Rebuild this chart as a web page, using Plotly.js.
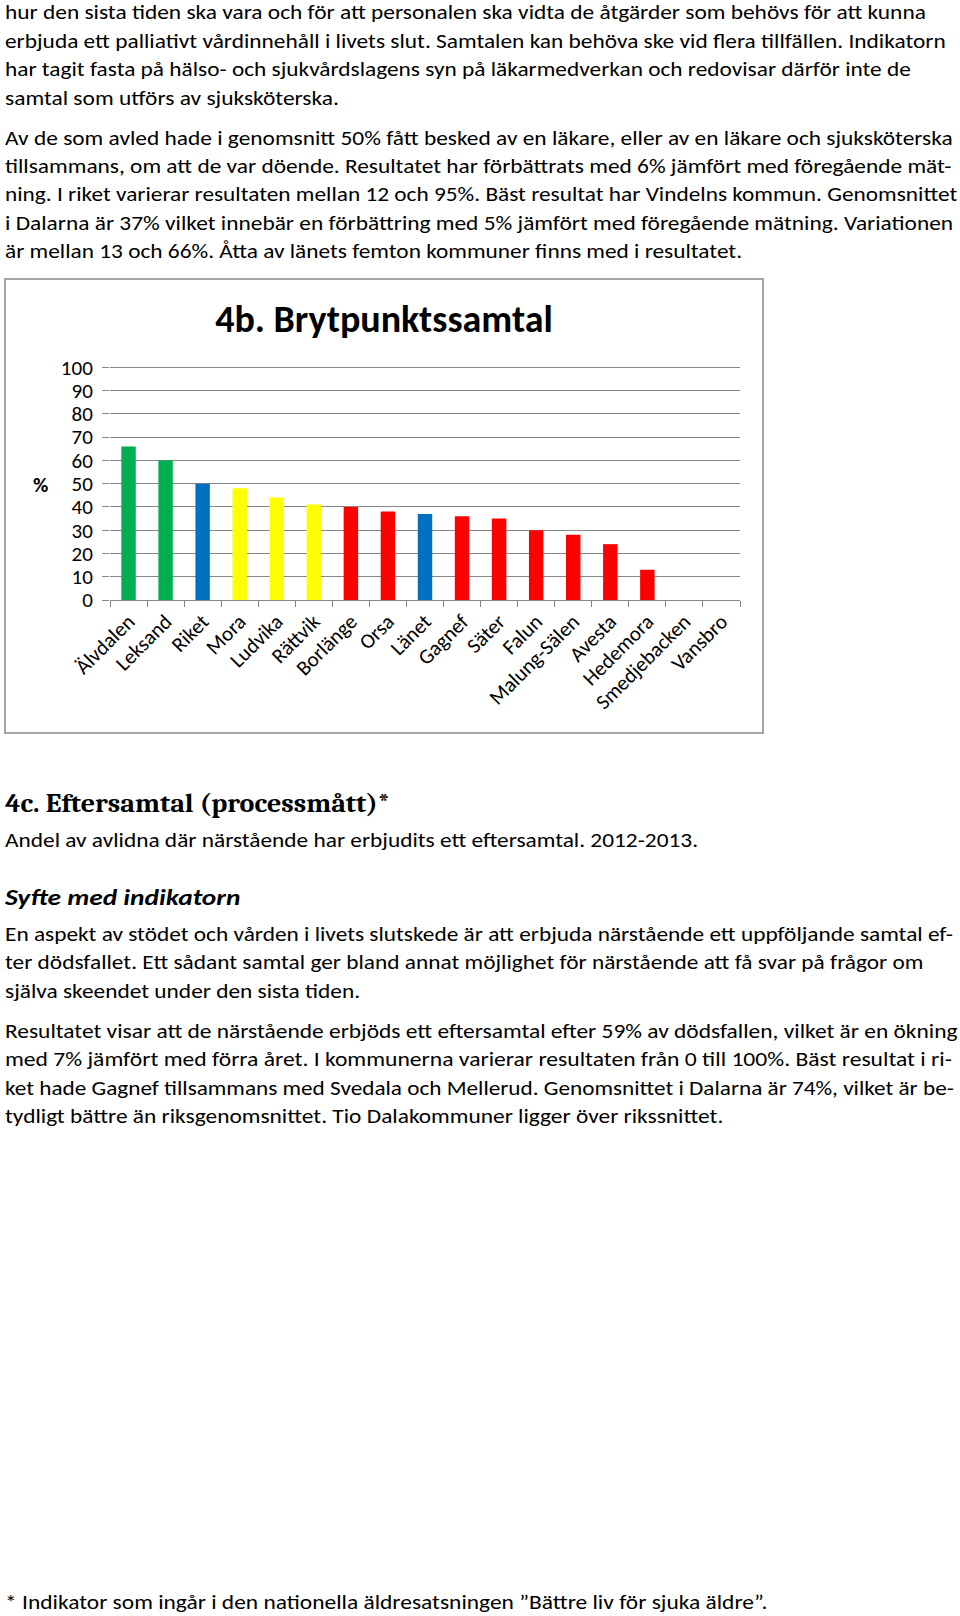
<!DOCTYPE html>
<html>
<head>
<meta charset="utf-8">
<script src="https://cdn.plot.ly/plotly-3.0.1.min.js"></script>
<style>
  html, body { margin:0; padding:0; background:#fff; }
  body { width:960px; height:1616px; position:relative; overflow:hidden; }
  .ln { position:absolute; left:5px; white-space:nowrap; font-family: Carlito, Calibri, Lato, "Noto Sans", sans-serif; font-size:20px; line-height:28px; height:28px; color:#000; transform-origin:left center; }
  .h4c { position:absolute; left:5px; white-space:nowrap; font-family: Cambria, Caladea, "Liberation Serif", serif; font-weight:bold; font-size:26px; line-height:32px; color:#000; transform-origin:left center; }
  .syfte { position:absolute; left:5px; white-space:nowrap; font-family: Carlito, Calibri, Lato, sans-serif; font-weight:bold; font-style:italic; font-size:23px; line-height:30px; color:#000; transform-origin:left center; }
  #chart { position:absolute; left:4px; top:278px; width:760px; height:456px; outline:2px solid #a6a6a6; outline-offset:-2px; }
</style>
</head>
<body>
<div id="text"></div>
<div id="chart"></div>
<script>
// ---- Chart data ----
const categories = ["Älvdalen","Leksand","Riket","Mora","Ludvika","Rättvik","Borlänge","Orsa","Länet","Gagnef","Säter","Falun","Malung-Sälen","Avesta","Hedemora","Smedjebacken","Vansbro"];
const values = [66, 60, 50, 48, 44, 41, 40, 38, 37, 36, 35, 30, 28, 24, 13, null, null];
const groups = ["green","green","blue","yellow","yellow","yellow","red","red","blue","red","red","red","red","red","red","red","red"];
const yTicks = [0,10,20,30,40,50,60,70,80,90,100];
const chartTitle = "4b. Brytpunktssamtal";
const yLabel = "%";

const groupColors = { green:"#00B050", blue:"#0070C0", yellow:"#FFFF00", red:"#FF0000" };

// ---- Page text (lines as laid out in the reference) ----
const textLines = [
  {c:"ln", y:12.4, t:"hur den sista tiden ska vara och för att personalen ska vidta de åtgärder som behövs för att kunna", w:921},
  {c:"ln", y:41.2, t:"erbjuda ett palliativt vårdinnehåll i livets slut. Samtalen kan behöva ske vid flera tillfällen. Indikatorn", w:941},
  {c:"ln", y:69, t:"har tagit fasta på hälso- och sjukvårdslagens syn på läkarmedverkan och redovisar därför inte de", w:906},
  {c:"ln", y:98, t:"samtal som utförs av sjuksköterska.", w:334},
  {c:"ln", y:138, t:"Av de som avled hade i genomsnitt 50% fått besked av en läkare, eller av en läkare och sjuksköterska", w:948},
  {c:"ln", y:166, t:"tillsammans, om att de var döende. Resultatet har förbättrats med 6% jämfört med föregående mät-", w:946},
  {c:"ln", y:194, t:"ning. I riket varierar resultaten mellan 12 och 95%. Bäst resultat har Vindelns kommun. Genomsnittet", w:952},
  {c:"ln", y:223, t:"i Dalarna är 37% vilket innebär en förbättring med 5% jämfört med föregående mätning. Variationen", w:948},
  {c:"ln", y:250.5, t:"är mellan 13 och 66%. Åtta av länets femton kommuner finns med i resultatet.", w:737},
  {c:"h4c", y:804, t:"4c. Eftersamtal (processmått)*", w:385},
  {c:"ln", y:840, t:"Andel av avlidna där närstående har erbjudits ett eftersamtal. 2012-2013.", w:693},
  {c:"syfte", y:897, t:"Syfte med indikatorn", w:236},
  {c:"ln", y:934, t:"En aspekt av stödet och vården i livets slutskede är att erbjuda närstående ett uppföljande samtal ef-", w:948},
  {c:"ln", y:962, t:"ter dödsfallet. Ett sådant samtal ger bland annat möjlighet för närstående att få svar på frågor om", w:918},
  {c:"ln", y:991, t:"själva skeendet under den sista tiden.", w:355},
  {c:"ln", y:1031, t:"Resultatet visar att de närstående erbjöds ett eftersamtal efter 59% av dödsfallen, vilket är en ökning", w:952},
  {c:"ln", y:1059, t:"med 7% jämfört med förra året. I kommunerna varierar resultaten från 0 till 100%. Bäst resultat i ri-", w:947},
  {c:"ln", y:1088, t:"ket hade Gagnef tillsammans med Svedala och Mellerud. Genomsnittet i Dalarna är 74%, vilket är be-", w:949},
  {c:"ln", y:1116, t:"tydligt bättre än riksgenomsnittet. Tio Dalakommuner ligger över rikssnittet.", w:718},
  {c:"ln", y:1602, t:"* Indikator som ingår i den nationella äldresatsningen ”Bättre liv för sjuka äldre”.", w:763}
];

const host = document.getElementById("text");
textLines.forEach(L => {
  const d = document.createElement("div");
  d.className = L.c;
  d.textContent = L.t;
  host.appendChild(d);
  const h = d.getBoundingClientRect().height;
  d.style.top = (L.y - h/2) + "px";
  const w = d.scrollWidth;
  if (w > 0) d.style.transform = "scaleX(" + (L.w / w) + ")";
});

// ---- Chart ----
const fontFam = "Carlito, Calibri, Lato, 'Noto Sans', sans-serif";
const trace = {
  type: "bar",
  x: categories,
  y: values,
  marker: { color: groups.map(g => groupColors[g]), line: { width: 0 } },
  hoverinfo: "x+y"
};

const layout = {
  width: 760, height: 456,
  margin: { l: 106, r: 24, t: 87, b: 134, pad: 0 },
  paper_bgcolor: "rgba(0,0,0,0)",
  plot_bgcolor: "rgba(0,0,0,0)",
  showlegend: false,
  bargap: 0.61,
  title: {
    text: "<b>" + chartTitle + "</b>",
    font: { family: fontFam, size: 38, color: "#000" },
    xref: "container", x: 0.5, xanchor: "center",
    yref: "container", y: 0.91, yanchor: "middle"
  },
  xaxis: {
    type: "category",
    tickangle: -45,
    tickfont: { family: fontFam, size: 21, color: "#000" },
    showline: true, linecolor: "#868686", linewidth: 1,
    ticks: "outside", ticklen: 6, tickcolor: "#868686", tickwidth: 1,
    tickson: "boundaries",
    showgrid: false, zeroline: false,
    fixedrange: true
  },
  yaxis: {
    range: [0, 101],
    tickvals: yTicks,
    ticktext: yTicks.map(String),
    tickfont: { family: fontFam, size: 21, color: "#000" },
    showgrid: true, gridcolor: "#868686", gridwidth: 1,
    showline: false, zeroline: false,
    ticks: "outside", ticklen: 7, tickcolor: "#868686", tickwidth: 1,
    ticklabelstandoff: 5,
    fixedrange: true
  },
  annotations: [{
    text: "<b>" + yLabel + "</b>",
    xref: "paper", yref: "paper",
    x: -0.110, y: 0.488, xanchor: "center", yanchor: "middle",
    showarrow: false,
    font: { family: fontFam, size: 21, color: "#000" }
  }]
};

Plotly.newPlot("chart", [trace], layout, { staticPlot: true, displayModeBar: false });
</script>
</body>
</html>
